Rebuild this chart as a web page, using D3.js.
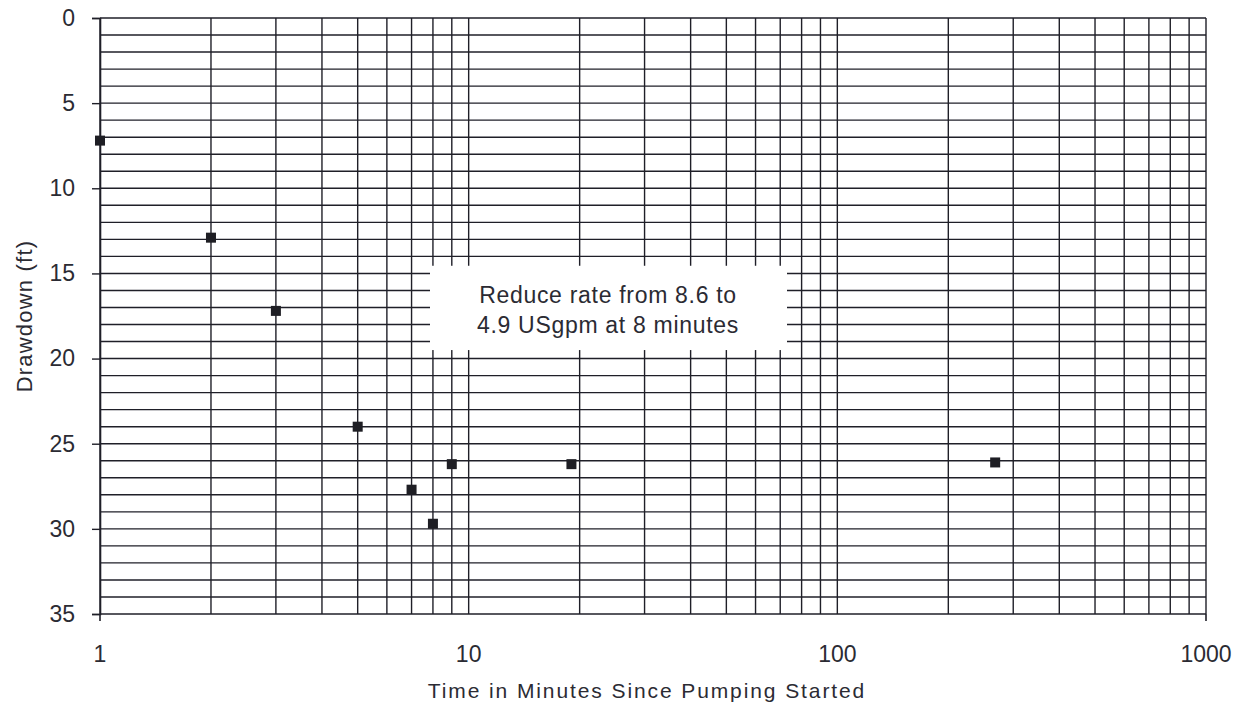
<!DOCTYPE html>
<html>
<head>
<meta charset="utf-8">
<script src="https://cdn.jsdelivr.net/npm/d3@7"></script>
<style>
  body { margin: 0; background: #fff; }
  text { font-family: "Liberation Sans", Arial, sans-serif; fill: #2b2b33; }
</style>
</head>
<body>
<div id="chart"></div>
<script>
const margin = { top: 18, right: 47, bottom: 105, left: 100 };
const width = 1253 - margin.left - margin.right;
const height = 719 - margin.top - margin.bottom;

// Data

const times = [1, 2, 3, 5, 7, 8, 9, 19, 268];
const drawdowns = [7.2, 12.9, 17.2, 24.0, 27.7, 29.7, 26.2, 26.2, 26.1];
const xTicks = [1, 10, 100, 1000];
const yTicks = [0, 5, 10, 15, 20, 25, 30, 35];
const noteLines = ["Reduce rate from 8.6 to", "4.9 USgpm at 8 minutes"];

const data = times.map((t, i) => ({ t: t, d: drawdowns[i] }));

// Scales

const x = d3.scaleLog()
  .domain([1, 1000])
  .range([0, width]);

const y = d3.scaleLinear()
  .domain([0, 35])
  .range([0, height]);

const svg = d3.select("#chart")
  .append("svg")
  .attr("width", width + margin.left + margin.right)
  .attr("height", height + margin.top + margin.bottom)
  .append("g")
  .attr("transform", `translate(${margin.left},${margin.top})`);

const gridColor = "#1f1f28";

// Horizontal gridlines, one per foot

svg.selectAll(".hgrid")
  .data(d3.range(0, 36))
  .join("line")
  .attr("class", "hgrid")
  .attr("x1", 0)
  .attr("x2", width)
  .attr("y1", d => y(d))
  .attr("y2", d => y(d))
  .attr("stroke", gridColor)
  .attr("stroke-width", 1.4);

// Vertical gridlines at 1..9 of each decade

svg.selectAll(".vgrid")
  .data(x.ticks())
  .join("line")
  .attr("class", "vgrid")
  .attr("x1", d => x(d))
  .attr("x2", d => x(d))
  .attr("y1", 0)
  .attr("y2", height)
  .attr("stroke", gridColor)
  .attr("stroke-width", 1.4);

// Y axis

svg.append("g")
  .style("font-size", "23px")
  .call(d3.axisLeft(y)
    .tickValues(yTicks)
    .tickSize(8)
    .tickPadding(17))
  .call(g => g.select(".domain").attr("stroke", gridColor).attr("stroke-width", 1.6))
  .call(g => g.selectAll(".tick line").attr("stroke", gridColor).attr("stroke-width", 1.4))
  .selectAll(".tick text")
  .style("fill", "#2b2b33");

// Axis stubs below the plot at both ends

svg.selectAll(".stub")
  .data([1, 1000])
  .join("line")
  .attr("class", "stub")
  .attr("x1", d => x(d))
  .attr("x2", d => x(d))
  .attr("y1", height)
  .attr("y2", height + 7)
  .attr("stroke", gridColor)
  .attr("stroke-width", 1.6);

// X tick labels

svg.selectAll(".xlab")
  .data(xTicks)
  .join("text")
  .attr("class", "xlab")
  .attr("x", d => x(d))
  .attr("y", height + 48)
  .style("text-anchor", "middle")
  .style("font-size", "23px")
  .text(d => d);

// Axis titles

svg.append("text")
  .attr("x", 547)
  .attr("y", height + 84)
  .style("text-anchor", "middle")
  .style("font-size", "21px")
  .style("letter-spacing", "1.9px")
  .text("Time in Minutes Since Pumping Started");

svg.append("text")
  .attr("transform", "rotate(-90)")
  .attr("x", -(y(17.5)))
  .attr("y", -68)
  .style("text-anchor", "middle")
  .style("font-size", "22px")
  .style("letter-spacing", "1.2px")
  .text("Drawdown (ft)");

// Annotation box

const note = svg.append("g");

note.append("rect")
  .attr("x", 330)
  .attr("y", y(14.55))
  .attr("width", 357)
  .attr("height", y(19.5) - y(14.55))
  .attr("fill", "#fff");

note.selectAll("text")
  .data(noteLines)
  .join("text")
  .attr("x", 508)
  .attr("y", (d, i) => 285 + i * 30)
  .style("text-anchor", "middle")
  .style("font-size", "23px")
  .style("letter-spacing", "0.7px")
  .text(d => d);

// Data points

svg.selectAll(".pt")
  .data(data)
  .join("rect")
  .attr("class", "pt")
  .attr("x", d => x(d.t) - 5)
  .attr("y", d => y(d.d) - 5)
  .attr("width", 10)
  .attr("height", 10)
  .attr("fill", "#1e1e24");
</script>
</body>
</html>
